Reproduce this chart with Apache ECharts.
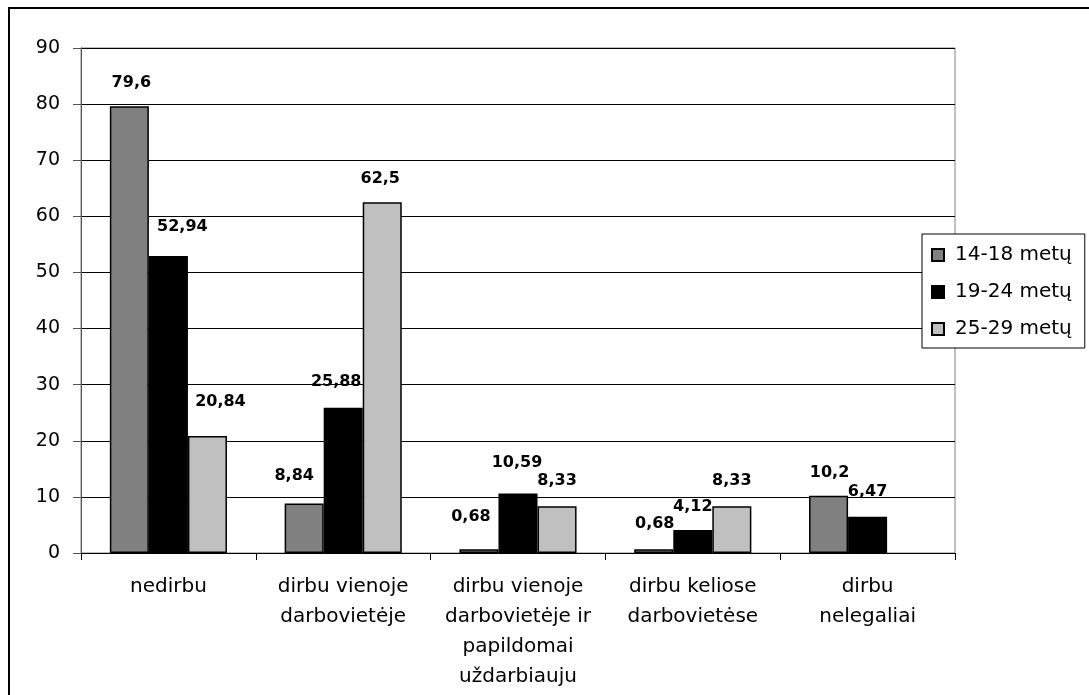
<!DOCTYPE html>
<html>
<head>
<meta charset="utf-8">
<script src="https://cdn.jsdelivr.net/npm/echarts@6/dist/echarts.min.js"></script>
<style>html,body{margin:0;padding:0;background:#fff;}#c{width:1089px;height:695px;}</style>
</head>
<body>
<div id="c"></div>
<script>
const categories = ['nedirbu', 'dirbu vienoje\ndarbovietėje', 'dirbu vienoje\ndarbovietėje ir\npapildomai\nuždarbiauju', 'dirbu keliose\ndarbovietėse', 'dirbu\nnelegaliai'];
const seriesNames = ['14-18 metų', '19-24 metų', '25-29 metų'];
const age14_18 = [79.6, 8.84, 0.68, 0.68, 10.2];
const age19_24 = [52.94, 25.88, 10.59, 4.12, 6.47];
const age25_29 = [20.84, 62.5, 8.33, 8.33, 0];
const yTicks = { min: 0, max: 90, interval: 10 };

// label nudges (pixels) to mimic the original label placement
const labelOffsets = [
  [[2, 1], [-10, -3], [-8, -7], [1, 0], [1, 2]],
  [[14, -4], [-7, -1], [-1, -6], [0, 2], [0, 0]],
  [[13, -9], [-2, 2], [0, 0], [0, 0], [0, 0]]
];
const colors = ['#808080', '#000000', '#C0C0C0'];
const FONT = 'DejaVu Sans';

function makeSeries(idx, values) {
  return {
    name: seriesNames[idx],
    type: 'bar',
    barGap: '0%',
    barCategoryGap: '33%',
    itemStyle: { color: colors[idx], borderColor: '#000', borderWidth: 1.5 },
    data: values.map((v, i) => ({
      value: v,
      itemStyle: v === 0 ? { borderWidth: 0 } : undefined,
      label: { offset: labelOffsets[idx][i] }
    })),
    label: {
      show: true,
      position: 'top',
      distance: 17,
      fontFamily: FONT,
      fontWeight: 'bold',
      fontSize: 16,
      color: '#000',
      formatter: p => p.value === 0 ? '' : String(p.value).replace('.', ',')
    }
  };
}

const chart = echarts.init(document.getElementById('c'), null, { renderer: 'canvas' });
chart.setOption({
  animation: false,
  backgroundColor: '#fff',
  textStyle: { fontFamily: FONT },
  graphic: [{
    type: 'rect',
    shape: { x: 9, y: 8, width: 1100, height: 710 },
    style: { fill: 'none', stroke: '#000', lineWidth: 2 },
    z: 100
  }],
  grid: { left: 81, top: 48, right: 134, bottom: 142, show: true, borderColor: '#808080', borderWidth: 1, backgroundColor: '#fff' },
  legend: {
    orient: 'vertical',
    left: 922,
    top: 234,
    padding: [11, 13, 9, 9],
    itemGap: 17,
    itemWidth: 12,
    itemHeight: 12,
    icon: 'rect',
    backgroundColor: '#fff',
    borderColor: '#000',
    borderWidth: 1,
    textStyle: { fontFamily: FONT, fontSize: 20, color: '#000', padding: [0, 0, 0, 6] },
    data: seriesNames
  },
  xAxis: {
    type: 'category',
    data: categories,
    axisLine: { lineStyle: { color: '#000', width: 1 } },
    axisTick: { show: true, length: 7, lineStyle: { color: '#000' }, alignWithLabel: false },
    axisLabel: { fontFamily: FONT, fontSize: 20, color: '#000', lineHeight: 30, margin: 19, interval: 0 },
    splitLine: { show: false }
  },
  yAxis: {
    type: 'value',
    min: yTicks.min,
    max: yTicks.max,
    interval: yTicks.interval,
    axisLine: { show: true, lineStyle: { color: '#555' } },
    axisTick: { show: true, length: 8, lineStyle: { color: '#555' } },
    axisLabel: { fontFamily: FONT, fontSize: 19, color: '#000', margin: 21 },
    splitLine: { show: true, lineStyle: { color: '#000', width: 1 } }
  },
  series: [makeSeries(0, age14_18), makeSeries(1, age19_24), makeSeries(2, age25_29)]
});
</script>
</body>
</html>
